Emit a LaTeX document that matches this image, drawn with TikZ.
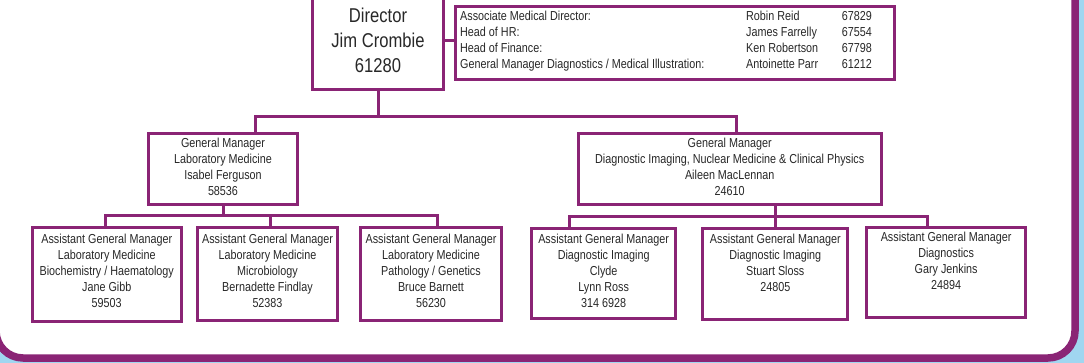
\documentclass[tikz,border=0pt]{standalone}
\usepackage{fontspec}
\setmainfont{Liberation Sans}[FakeStretch=0.83]
\definecolor{ggpurple}{RGB}{138,36,117}
\definecolor{ggblue}{RGB}{160,214,240}
\definecolor{txtgray}{RGB}{40,40,40}
\newcommand\fstrut{\rule{0pt}{10pt}}
\begin{document}
\begin{tikzpicture}[x=1pt,y=-1pt,
  box/.style={draw=ggpurple,line width=3pt,fill=white,inner sep=0pt,rectangle},
  wire/.style={draw=ggpurple,line width=3pt},
  txt/.style={text=txtgray,font=\fontsize{13}{16}\selectfont,align=center,inner sep=0pt,anchor=north}]
\useasboundingbox (0,0) rectangle (1084,363);
\clip (0,0) rectangle (1084,363);
\fill[ggblue] (0,0) rectangle (1084,363);
\draw[ggpurple,line width=7.5pt,fill=white,rounded corners=27pt] (-4,-40) rectangle (1075,358);

% boxes
\node[box,minimum width=131pt,minimum height=97.7pt] (dir) at (378,40.65) {};
\node[box,minimum width=439pt,minimum height=73pt] (info) at (675,43) {};
\node[box,minimum width=149.6pt,minimum height=71.6pt] (gm1) at (223,169) {};
\node[box,minimum width=303pt,minimum height=71.6pt] (gm2) at (729.7,169) {};
\node[box,minimum width=148.5pt,minimum height=93.5pt] (a1) at (106.75,274.75) {};
\node[box,minimum width=140pt,minimum height=92.5pt] (a2) at (267.5,274.25) {};
\node[box,minimum width=141pt,minimum height=92pt] (a3) at (431,274) {};
\node[box,minimum width=144.3pt,minimum height=89.7pt] (a4) at (603.65,273.65) {};
\node[box,minimum width=145pt,minimum height=90.7pt] (a5) at (775.3,273.85) {};
\node[box,minimum width=159.3pt,minimum height=90pt] (a6) at (946.15,272.5) {};

% connectors
\draw[wire] (dir.east) -- (dir.east -| info.west);
\coordinate (t1) at (255,116.7);
\coordinate (t2) at (736.7,116.7);
\draw[wire] (t1 |- gm1.north) -- (t1) -- (t2) -- (t2 |- gm2.north);
\draw[wire] (dir.south) -- (dir.south |- t1);
\coordinate (b1) at (105,216);
\coordinate (b2) at (270,216);
\coordinate (b3) at (437.7,216);
\draw[wire] (b1 |- a1.north) -- (b1) -- (b3) -- (b3 |- a3.north);
\draw[wire] (b2) -- (b2 |- a2.north);
\draw[wire] (gm1.south) -- (gm1.south |- b1);
\coordinate (c1) at (569.3,216.7);
\coordinate (c2) at (775,216.7);
\coordinate (c3) at (927.3,216.7);
\draw[wire] (c1 |- a4.north) -- (c1) -- (c3) -- (c3 |- a6.north);
\draw[wire] (c2 |- gm2.south) -- (c2 |- a5.north);

% texts
\node[txt,font=\fontsize{20}{25}\selectfont] (dirt) at (378,7) {\rule{0pt}{15pt}Director\\Jim Crombie\\61280};
\node[anchor=north west,inner sep=0pt,text=txtgray,font=\fontsize{13}{16}\selectfont] (infot) at (460,9.5)
 {\begin{tabular}{@{}p{286pt}@{}p{95.6pt}@{}l@{}}
  Associate Medical Director: & Robin Reid & 67829\\
  Head of HR: & James Farrelly & 67554\\
  Head of Finance: & Ken Robertson & 67798\\
  General Manager Diagnostics / Medical Illustration: & Antoinette Parr & 61212
  \end{tabular}};
\node[txt] (gm1t) at (223,137) {\fstrut General Manager\\Laboratory Medicine\\Isabel Ferguson\\58536};
\node[txt] (gm2t) at (729.7,137) {\fstrut General Manager\\Diagnostic Imaging, Nuclear Medicine \& Clinical Physics\\Aileen MacLennan\\24610};
\node[txt] (a1t) at (106.75,233) {\fstrut Assistant General Manager\\Laboratory Medicine\\Biochemistry / Haematology\\Jane Gibb\\59503};
\node[txt] (a2t) at (267.5,233) {\fstrut Assistant General Manager\\Laboratory Medicine\\Microbiology\\Bernadette Findlay\\52383};
\node[txt] (a3t) at (431,233) {\fstrut Assistant General Manager\\Laboratory Medicine\\Pathology / Genetics\\Bruce Barnett\\56230};
\node[txt] (a4t) at (603.65,233) {\fstrut Assistant General Manager\\Diagnostic Imaging\\Clyde\\Lynn Ross\\314 6928};
\node[txt] (a5t) at (775.3,233) {\fstrut Assistant General Manager\\Diagnostic Imaging\\Stuart Sloss\\24805};
\node[txt] (a6t) at (946.15,231.5) {\fstrut Assistant General Manager\\Diagnostics\\Gary Jenkins\\24894};
\end{tikzpicture}
\end{document}
